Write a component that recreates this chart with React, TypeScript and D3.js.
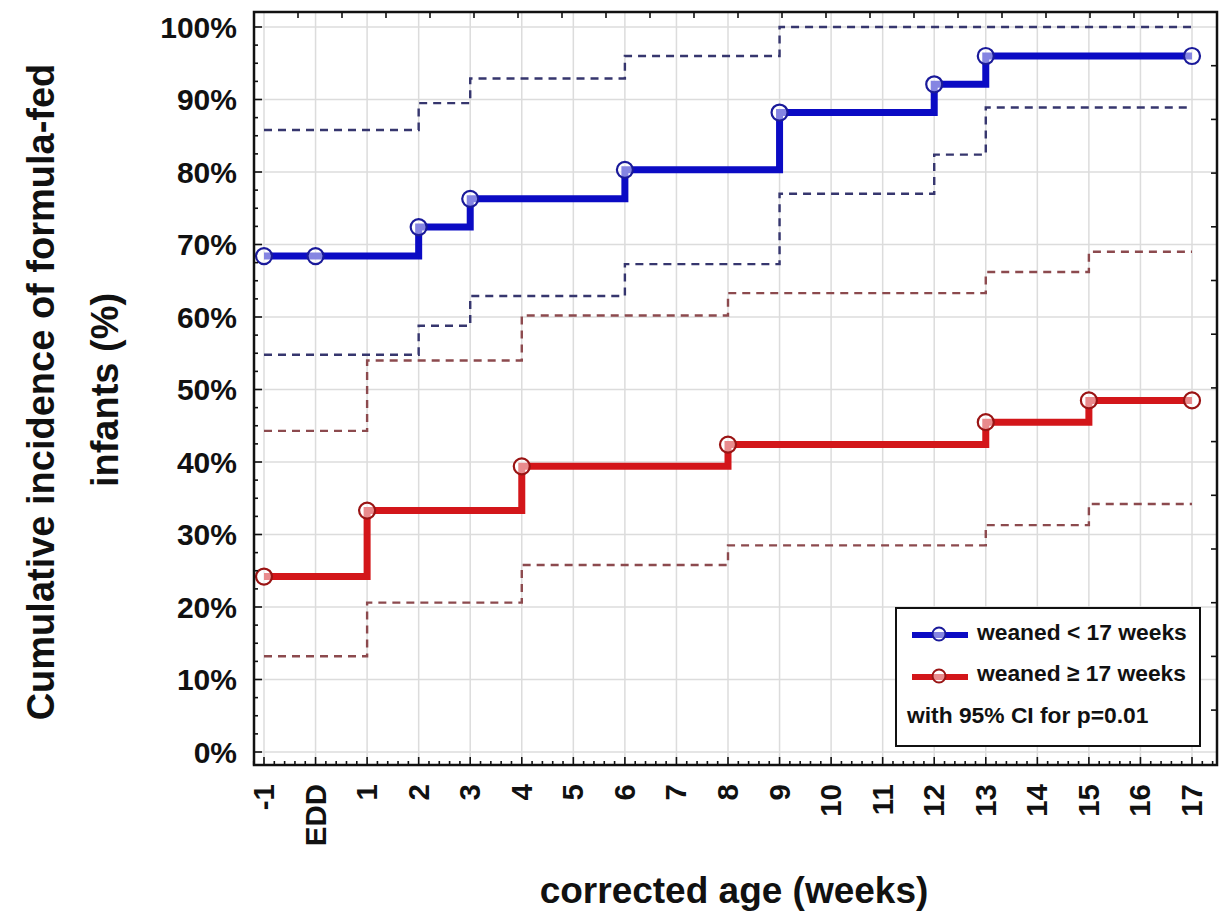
import React from "react";
import * as d3 from "d3";

// week categories on the x axis
const weeks = ["-1", "EDD", "1", "2", "3", "4", "5", "6", "7", "8", "9", "10", "11", "12", "13", "14", "15", "16", "17"];
const yTicks = [0, 10, 20, 30, 40, 50, 60, 70, 80, 90, 100];

// weaned < 17 weeks
const blueWeeks = ["-1", "EDD", "2", "3", "6", "9", "12", "13", "17"];
const blueValues = [68.4, 68.4, 72.4, 76.3, 80.3, 88.2, 92.1, 96.0, 96.0];
const blueUpperWeeks = ["-1", "2", "3", "6", "9", "17"];
const blueUpper = [85.8, 89.5, 92.9, 96.0, 100, 100];
const blueLowerWeeks = ["-1", "2", "3", "6", "9", "12", "13", "17"];
const blueLower = [54.8, 58.8, 62.9, 67.3, 77.0, 82.4, 88.9, 88.9];

// weaned >= 17 weeks
const redWeeks = ["-1", "1", "4", "8", "13", "15", "17"];
const redValues = [24.2, 33.3, 39.4, 42.4, 45.5, 48.5, 48.5];
const redUpper = [44.3, 54.0, 60.2, 63.3, 66.2, 69.0, 69.0];
const redLower = [13.2, 20.6, 25.8, 28.5, 31.3, 34.2, 34.2];

const W = 1221;
const H = 918;
const frame = { left: 254, top: 12, right: 1217, bottom: 765 };

const BLUE = "#0b0bc4";
const BLUE_DARK = "#1a1a9a";
const BLUE_CI = "#36366e";
const RED = "#d3161a";
const RED_DARK = "#9a1414";
const RED_CI = "#8c4a4e";
const FONT = "'Liberation Sans', Arial, sans-serif";

const App = () => {
  const x = d3.scalePoint<string>().domain(weeks).range([264, 1192]);
  const xi = d3.scaleLinear().domain([0, weeks.length - 1]).range([264, 1192]);
  const y = d3.scaleLinear().domain([0, 100]).range([752, 27]);
  // decorative secondary tick scales on the top and right edges
  const topScale = d3.scaleLinear().domain([0, 22]).range([frame.left, frame.left + 22 * 44]);
  const rightScale = d3.scaleLinear().domain([0, 14]).range([frame.top, frame.top + 14 * 53.7]);

  const step = d3
    .line<[string, number]>()
    .x((d) => x(d[0]) as number)
    .y((d) => y(d[1]))
    .curve(d3.curveStepAfter);

  const zip = (ks: string[], vs: number[]) => ks.map((k, i) => [k, vs[i]] as [string, number]);

  const yMinor = d3.range(-0, 101, 2.5).filter((v) => v % 10 !== 0);
  const xMinor = d3.range(-0.2, weeks.length - 1 + 0.5, 0.2).filter((v) => Math.abs(v - Math.round(v)) > 0.01);

  const lines = [
    { pts: zip(blueUpperWeeks, blueUpper), color: BLUE_CI },
    { pts: zip(blueLowerWeeks, blueLower), color: BLUE_CI },
    { pts: zip(redWeeks, redUpper), color: RED_CI },
    { pts: zip(redWeeks, redLower), color: RED_CI },
  ];

  const series = [
    { pts: zip(blueWeeks, blueValues), color: BLUE, edge: BLUE_DARK },
    { pts: zip(redWeeks, redValues), color: RED, edge: RED_DARK },
  ];

  return (
    <svg width={W} height={H} style={{ position: "absolute", left: 0, top: 0, background: "#fff" }} fontFamily={FONT}>
      {/* grid */}
      <g stroke="#dcdcdc" strokeWidth={1.5}>
        {weeks.map((w) => (
          <line key={w} x1={x(w)} x2={x(w)} y1={frame.top} y2={frame.bottom} />
        ))}
        {yTicks.map((t) => (
          <line key={t} x1={frame.left} x2={frame.right} y1={y(t)} y2={y(t)} />
        ))}
      </g>

      {/* confidence intervals */}
      {lines.map((l, i) => (
        <path key={i} d={step(l.pts) || ""} fill="none" stroke={l.color} strokeWidth={2.4} strokeDasharray="8 6" />
      ))}

      {/* main step lines */}
      {series.map((s, i) => (
        <g key={i}>
          <path d={step(s.pts) || ""} fill="none" stroke={s.color} strokeWidth={7} strokeLinejoin="miter" />
          {s.pts.map((p, j) => (
            <circle
              key={j}
              cx={x(p[0])}
              cy={y(p[1])}
              r={8}
              fill="#ffffff"
              fillOpacity={0.5}
              stroke={s.edge}
              strokeWidth={2.2}
            />
          ))}
        </g>
      ))}

      {/* frame and ticks */}
      <rect
        x={frame.left}
        y={frame.top}
        width={frame.right - frame.left}
        height={frame.bottom - frame.top}
        fill="none"
        stroke="#111"
        strokeWidth={2.5}
      />
      <g stroke="#111" strokeWidth={1.6}>
        {yTicks.map((t) => (
          <line key={"ym" + t} x1={frame.left} x2={frame.left + 8} y1={y(t)} y2={y(t)} />
        ))}
        {yMinor.map((t) => (
          <line key={"yn" + t} x1={frame.left} x2={frame.left + 4} y1={y(t)} y2={y(t)} />
        ))}
        {weeks.map((w) => (
          <line key={"xm" + w} x1={x(w)} x2={x(w)} y1={frame.bottom} y2={frame.bottom - 8} />
        ))}
        {xMinor.map((v, i) => (
          <line key={"xn" + i} x1={xi(v)} x2={xi(v)} y1={frame.bottom} y2={frame.bottom - 4} />
        ))}
        {topScale.ticks(22).filter((t) => topScale(t) < frame.right - 4 && t > 0).map((t) => (
          <line key={"tt" + t} x1={topScale(t)} x2={topScale(t)} y1={frame.top} y2={frame.top + 6} />
        ))}
        {rightScale.ticks(14).filter((t) => t > 0 && rightScale(t) < frame.bottom - 4).map((t) => (
          <line key={"rt" + t} x1={frame.right} x2={frame.right - 6} y1={rightScale(t)} y2={rightScale(t)} />
        ))}
      </g>

      {/* y tick labels */}
      <g fontSize={30} fontWeight="bold" textAnchor="end" fill="#111">
        {yTicks.map((t) => (
          <text key={t} x={237} y={y(t)} dy="0.36em">
            {t}%
          </text>
        ))}
      </g>

      {/* x tick labels */}
      <g fontSize={29.5} fontWeight="bold" textAnchor="end" fill="#111">
        {weeks.map((w) => (
          <text key={w} transform={`translate(${(x(w) as number) + 10},784) rotate(-90)`}>
            {w}
          </text>
        ))}
      </g>

      {/* axis titles */}
      <g fontSize={38} fontWeight="bold" textAnchor="middle" fill="#111">
        <text transform="translate(54,392) rotate(-90)">Cumulative incidence of formula-fed</text>
        <text transform="translate(118,390) rotate(-90)">infants (%)</text>
        <text x={734} y={903} fontSize={37}>corrected age (weeks)</text>
      </g>

      {/* legend */}
      <g>
        <rect x={896} y={608} width={304} height={138} fill="#fff" stroke="#111" strokeWidth={2} />
        <line x1={912} x2={968} y1={635} y2={635} stroke={BLUE} strokeWidth={6} />
        <circle cx={939} cy={634} r={6.5} fill="#fff" fillOpacity={0.5} stroke={BLUE_DARK} strokeWidth={2} />
        <line x1={912} x2={968} y1={677} y2={677} stroke={RED} strokeWidth={6} />
        <circle cx={939} cy={676} r={6.5} fill="#fff" fillOpacity={0.5} stroke={RED_DARK} strokeWidth={2} />
        <g fontSize={22.8} fontWeight="bold" fill="#111">
          <text x={977} y={640}>weaned &lt; 17 weeks</text>
          <text x={977} y={681}>weaned ≥ 17 weeks</text>
          <text x={907} y={723}>with 95% CI for p=0.01</text>
        </g>
      </g>
    </svg>
  );
};

export default App;
